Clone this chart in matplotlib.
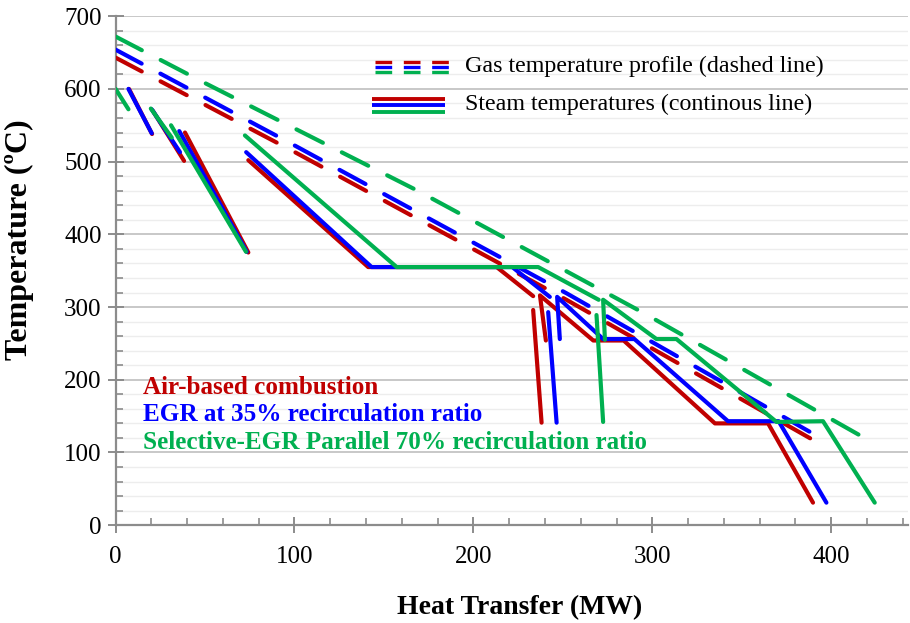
import matplotlib.pyplot as plt
from matplotlib.ticker import MultipleLocator

# gas temperature profiles (dashed)
gas_x_air = [0, 101, 252, 390]
gas_t_air = [643, 512, 310, 117]
gas_x_egr = [0, 101, 252, 394]
gas_t_egr = [654, 521, 319, 120]
gas_x_sel = [0, 50, 168, 295, 420]
gas_t_sel = [672, 608, 461, 292, 118]

# steam temperatures (solid), one list of (heat, temperature) pieces per case
steam_air = [
    ([7.5, 20.4], [600, 538]),
    ([20.8, 38.3], [570, 501]),
    ([38.8, 74.2], [540, 375]),
    ([74.2, 141.2, 213, 233.4], [502, 355, 355, 315]),
    ([233.4, 238.1], [296, 141]),
    ([240.5, 237.2, 267, 284, 335, 364.7, 389.8], [254, 316, 254, 254, 140, 140, 31]),
]
steam_egr = [
    ([7.2, 20.2], [600, 539]),
    ([20.2, 36], [572, 513]),
    ([35.6, 73.3], [542, 376]),
    ([73, 143.1, 221.7, 242.7], [513, 355, 355, 314]),
    ([241.8, 246.5], [293, 141]),
    ([248.3, 246.8, 272.5, 290, 342.3, 370.6, 397.3], [256, 314, 256, 256, 143, 143, 31]),
]
steam_sel = [
    ([0, 7.2], [600, 572]),
    ([19.7, 31.4], [573, 533]),
    ([31, 72.9], [550, 376]),
    ([72.3, 157.1, 236.2, 270], [536, 355, 355, 310]),
    ([268.8, 272.5], [289, 142]),
    ([273.5, 272.5, 302.3, 313.5, 369.4, 395.4, 424.3], [255, 310, 256, 256, 142, 143, 31]),
]

case_labels = ['Air-based combustion',
               'EGR at 35% recirculation ratio',
               'Selective-EGR Parallel 70% recirculation ratio']
colours = ['#C00000', '#0000FF', '#00B050']

plt.rcParams['font.family'] = ['Liberation Serif', 'DejaVu Serif']

fig = plt.figure(figsize=(9.1, 6.23), dpi=100)
ax = fig.add_axes([0.127, 0.157, 0.871, 0.817])

lw = 3.0
gas = [(gas_x_air, gas_t_air), (gas_x_egr, gas_t_egr), (gas_x_sel, gas_t_sel)]
for (gx, gt), c in zip(gas, colours):
    ax.plot(gx, gt, color=c, lw=lw, linestyle=(0, (7.1, 5.1)),
            dash_capstyle='round', zorder=3)

for pieces, c in zip([steam_air, steam_egr, steam_sel], colours):
    for sx, st in pieces:
        ax.plot(sx, st, color=c, lw=lw, solid_capstyle='round',
                solid_joinstyle='round', zorder=4)

# case labels
for i, (lab, c) in enumerate(zip(case_labels, colours)):
    ax.text(15.4, 190 - 38 * i, lab, color=c, fontsize=18.1, fontweight='bold',
            va='center', ha='left')

# legend drawn in axes fraction
for i, c in enumerate(colours):
    ax.plot([0.327, 0.422], [0.910 - 0.0095 * i] * 2, transform=ax.transAxes,
            color=c, lw=2.4, linestyle=(0, (5, 3.5)), dash_capstyle='butt',
            clip_on=False, zorder=5)
    ax.plot([0.323, 0.416], [0.8375 - 0.0125 * i] * 2, transform=ax.transAxes,
            color=c, lw=2.8, solid_capstyle='butt', clip_on=False, zorder=5)
ax.text(0.441, 0.901, 'Gas temperature profile (dashed line)', transform=ax.transAxes,
        fontsize=17.3, va='center', ha='left')
ax.text(0.441, 0.826, 'Steam temperatures (continous line)', transform=ax.transAxes,
        fontsize=17.3, va='center', ha='left')

ax.set_xlim(0, 443)
ax.set_ylim(0, 700)
ax.xaxis.set_major_locator(MultipleLocator(100))
ax.xaxis.set_minor_locator(MultipleLocator(20))
ax.yaxis.set_major_locator(MultipleLocator(100))
ax.yaxis.set_minor_locator(MultipleLocator(20))

ax.grid(axis='y', which='major', color='#C4C4C4', lw=1.3, zorder=0)
ax.grid(axis='y', which='minor', color='#EDEDED', lw=1.0, zorder=0)
ax.set_axisbelow(True)

for s in ['top', 'right']:
    ax.spines[s].set_visible(False)
for s in ['left', 'bottom']:
    ax.spines[s].set_color('#8C8C8C')
    ax.spines[s].set_linewidth(1.6)

ax.tick_params(which='major', direction='inout', length=12, width=1.4,
               color='#8C8C8C', labelsize=18, pad=4)
ax.tick_params(which='minor', direction='in', length=5, width=1.2,
               color='#8C8C8C')
ax.tick_params(axis='x', which='major', pad=9)

ax.set_xlabel('Heat Transfer (MW)', fontsize=20, fontweight='bold')
ax.set_ylabel('Temperature (ºC)', fontsize=23, fontweight='bold')
ax.xaxis.set_label_coords(0.51, -0.137)
ax.yaxis.set_label_coords(-0.103, 0.56)

fig.savefig('out.png', dpi=100)
